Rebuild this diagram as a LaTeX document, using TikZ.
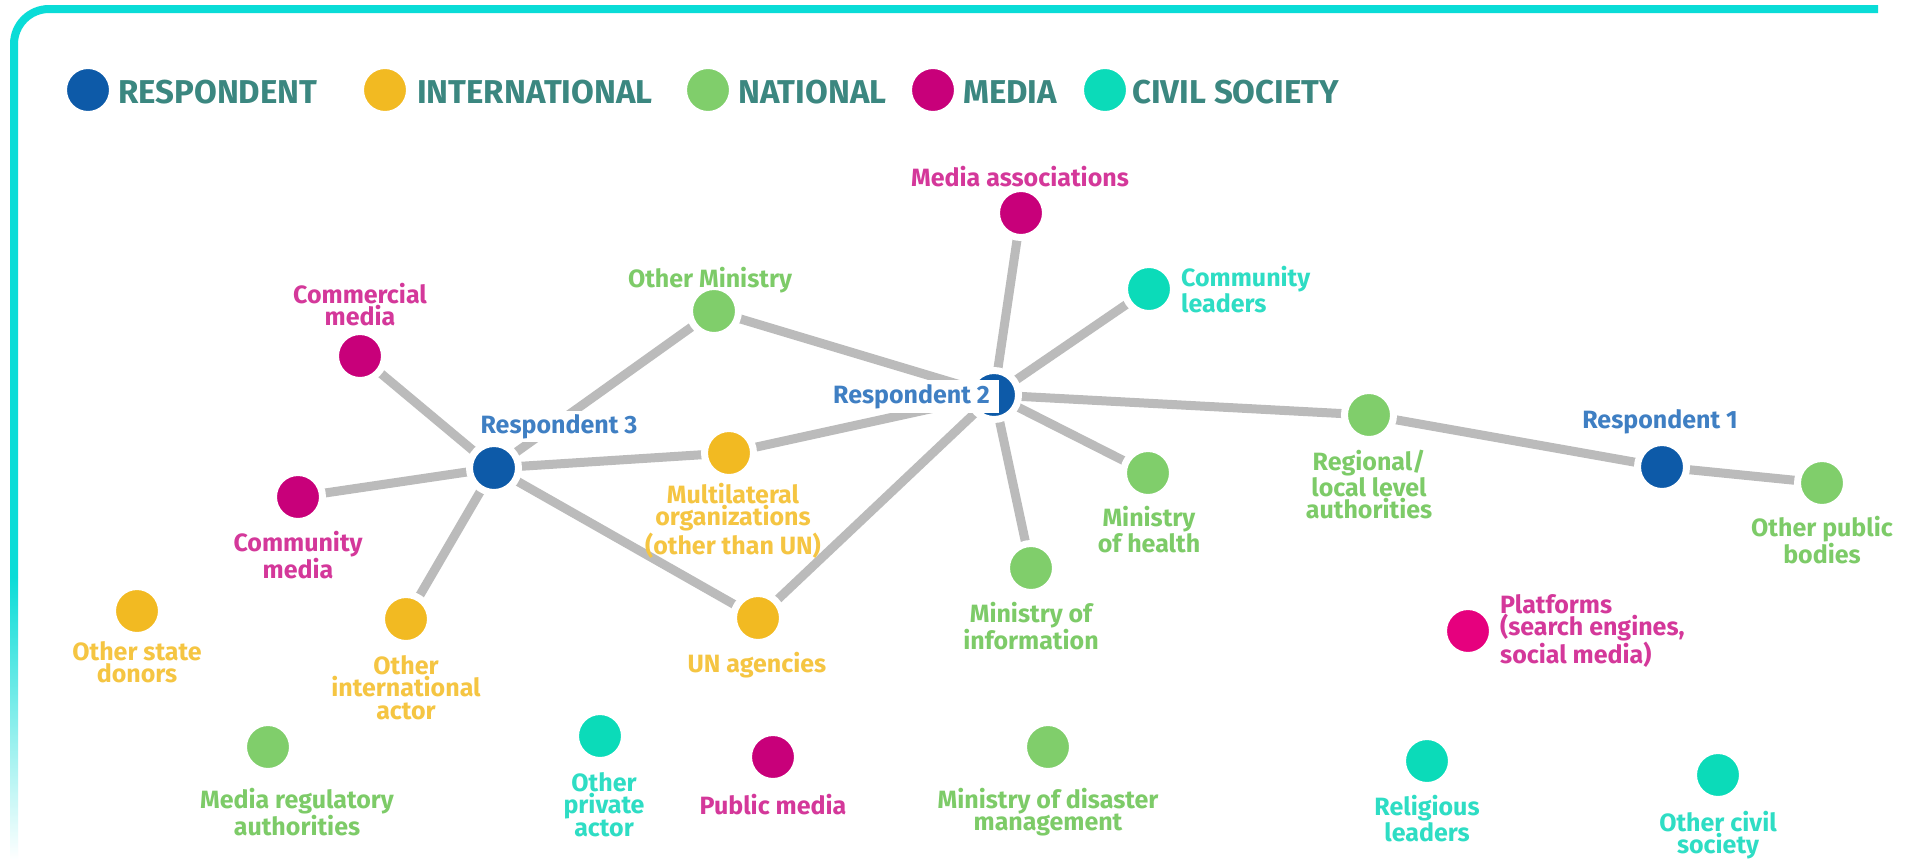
\documentclass[tikz,border=0pt]{standalone}
\usepackage{fontspec}
\setmainfont{Fira Sans}
\usetikzlibrary{backgrounds}
\definecolor{resp}{HTML}{0D5AA8}
\definecolor{respT}{HTML}{3F7FC3}
\definecolor{intl}{HTML}{F2BA22}
\definecolor{intlT}{HTML}{F5C542}
\definecolor{natl}{HTML}{80CE6B}
\definecolor{natlT}{HTML}{7DCB68}
\definecolor{media}{HTML}{C8007A}
\definecolor{mediaT}{HTML}{D4389A}
\definecolor{plat}{HTML}{E6007E}
\definecolor{civil}{HTML}{0BDBB9}
\definecolor{civilT}{HTML}{2EDDC4}
\definecolor{framec}{HTML}{0ADCD7}
\definecolor{legT}{HTML}{3B8780}
\definecolor{edgec}{HTML}{BBBBBB}
\tikzset{
 dot/.style={circle, minimum size=49pt, inner sep=0pt, line width=7pt, draw=white, fill=#1},
 lbl/.style={font=\bfseries\fontsize{25}{22.5}\selectfont, align=center, inner sep=1pt, text=#1, anchor=north},
 rlbl/.style={font=\bfseries\fontsize{25}{24}\selectfont, text=respT, fill=white, inner sep=3pt, anchor=base},
 lnk/.style={line width=9pt, draw=edgec},
 legtxt/.style={font=\bfseries\fontsize{33}{36}\selectfont, text=legT, anchor=base west, inner sep=0pt},
}
\begin{document}
\begin{tikzpicture}[x=1pt,y=-1pt]
\useasboundingbox (0,0) rectangle (1907,860);
% frame
\draw[framec, line width=8pt] (14,577) -- (14,44) arc[start angle=180, end angle=90, radius=35pt] -- (1878,9);
\shade[top color=framec, bottom color=white] (10,577) rectangle (18,860);
% legend
\node[dot=resp] (lr) at (88,90) {};
\node[legtxt] (lrt) at (118,103) {RESPONDENT};
\node[dot=intl] (li) at (385,90) {};
\node[legtxt] (lit) at (417,103) {INTERNATIONAL};
\node[dot=natl] (ln) at (708,90) {};
\node[legtxt] (lnt) at (738,103) {NATIONAL};
\node[dot=media] (lm) at (933,90) {};
\node[legtxt] (lmt) at (963,103) {MEDIA};
\node[dot=civil] (lc) at (1105,90) {};
\node[legtxt] (lct) at (1132,103) {CIVIL SOCIETY};
% nodes
\node[dot=resp] (r2) at (994,395) {};
\node[dot=resp] (r3) at (494,468) {};
\node[dot=resp] (r1) at (1662,467) {};
\node[dot=media] (mass) at (1021,213) {};
\node[dot=civil] (cl) at (1149,289) {};
\node[dot=natl] (om) at (714,311) {};
\node[dot=media] (cm) at (360,356) {};
\node[dot=natl] (reg) at (1369,415) {};
\node[dot=intl] (mult) at (729,453) {};
\node[dot=natl] (opb) at (1822,483) {};
\node[dot=natl] (moh) at (1148,473) {};
\node[dot=media] (cmed) at (298,497) {};
\node[dot=natl] (moi) at (1031,568) {};
\node[dot=intl] (osd) at (137,611) {};
\node[dot=plat] (plat) at (1468,631) {};
\node[dot=intl] (oia) at (406,619) {};
\node[dot=intl] (un) at (758,618) {};
\node[dot=natl] (mra) at (268,747) {};
\node[dot=civil] (opa) at (600,736) {};
\node[dot=media] (pm) at (773,757) {};
\node[dot=natl] (mdm) at (1048,747) {};
\node[dot=civil] (rl) at (1427,761) {};
\node[dot=civil] (ocs) at (1718,775) {};
% labels
\node[lbl=mediaT] (massl) at (1020,165) {Media associations};
\node[lbl=civilT, anchor=north west, align=left] (cll) at (1180,265) {Community\\leaders};
\node[lbl=natlT] (oml) at (710,266) {Other Ministry};
\node[lbl=mediaT] (cml) at (360,282) {Commercial\\media};
\node[lbl=natlT] (regl) at (1369,449) {Regional/\\local level\\authorities};
\node[lbl=intlT] (multl) at (733,482) {Multilateral\\organizations\\(other than UN)};
\node[lbl=natlT] (opbl) at (1822,515) {Other public\\bodies};
\node[lbl=natlT] (mohl) at (1149,505) {Ministry\\of health};
\node[lbl=mediaT] (cmedl) at (298,530) {Community\\media};
\node[lbl=natlT] (moil) at (1031,601) {Ministry of\\information};
\node[lbl=intlT] (osdl) at (137,640) {Other state\\donors};
\node[lbl=mediaT, anchor=north west, align=left] (platl) at (1499,593) {Platforms\\(search engines,\\social media)};
\node[lbl=intlT] (oial) at (406,654) {Other\\international\\actor};
\node[lbl=intlT] (unl) at (757,651) {UN agencies};
\node[lbl=natlT] (mral) at (297,787) {Media regulatory\\authorities};
\node[lbl=civilT] (opal) at (604,771) {Other\\private\\actor};
\node[lbl=mediaT] (pml) at (773,793) {Public media};
\node[lbl=natlT] (mdml) at (1048,787) {Ministry of disaster\\management};
\node[lbl=civilT] (rll) at (1427,794) {Religious\\leaders};
\node[lbl=civilT] (ocsl) at (1718,810) {Other civil\\society};
\node[rlbl, inner sep=1pt] (r1l) at (1660,428) {Respondent 1};
\node[rlbl] (r3l) at (559,433) {Respondent 3};
\node[rlbl, anchor=base east, inner xsep=9pt, inner ysep=4pt] (r2l) at (999,403) {Respondent 2};
% edges
\begin{pgfonlayer}{background}
\fill[white] (0,0) rectangle (1907,860);
\draw[lnk] (r3.center) -- (cm.center);
\draw[lnk] (r3.center) -- (cmed.center);
\draw[lnk] (r3.center) -- (oia.center);
\draw[lnk] (r3.center) -- (om.center);
\draw[lnk] (r3.center) -- (mult.center);
\draw[lnk] (r3.center) -- (un.center);
\draw[lnk] (mult.center) -- (r2.center);
\draw[lnk] (un.center) -- (r2.center);
\draw[lnk] (om.center) -- (r2.center);
\draw[lnk] (r2.center) -- (mass.center);
\draw[lnk] (r2.center) -- (cl.center);
\draw[lnk] (r2.center) -- (moh.center);
\draw[lnk] (r2.center) -- (moi.center);
\draw[lnk] (r2.center) -- (reg.center);
\draw[lnk] (reg.center) -- (r1.center);
\draw[lnk] (r1.center) -- (opb.center);
\end{pgfonlayer}
\end{tikzpicture}
\end{document}
